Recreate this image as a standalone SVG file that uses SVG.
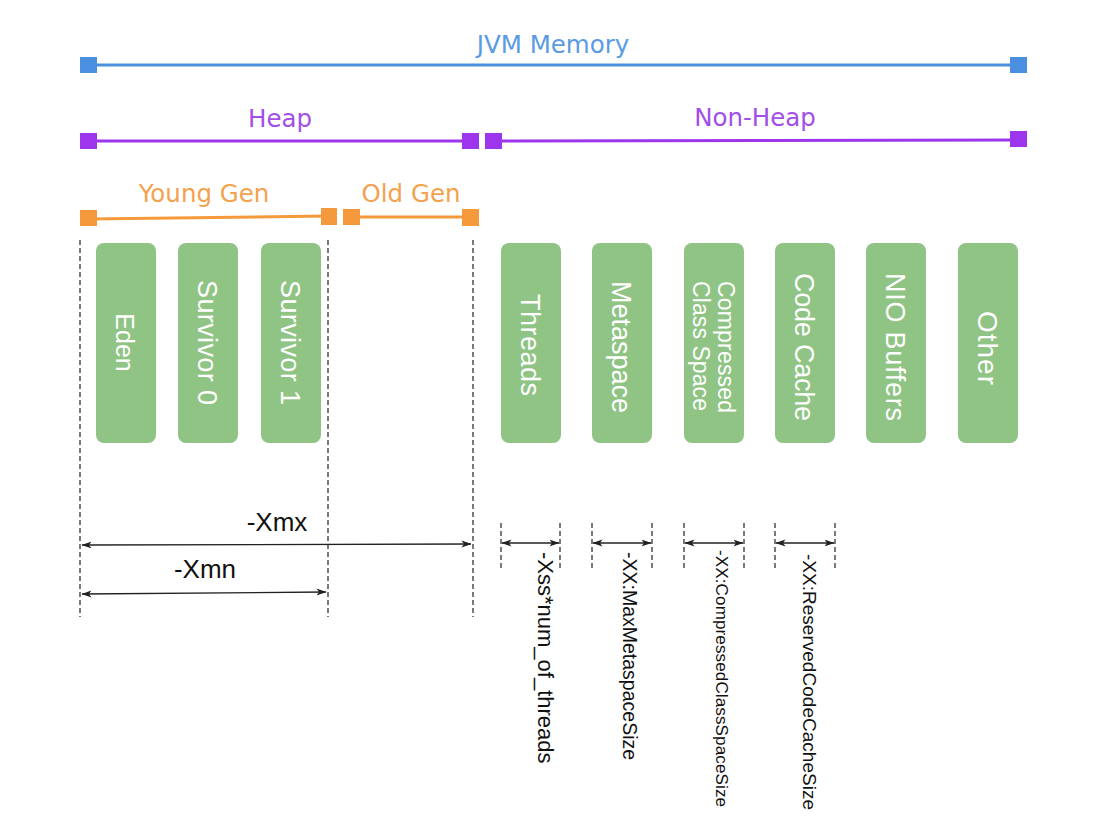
<svg xmlns="http://www.w3.org/2000/svg" width="1111" height="832" viewBox="0 0 1111 832">
<style>
.bg{fill:#ffffff}
.top{font-family:"DejaVu Sans",Verdana,sans-serif;font-size:24.5px;text-anchor:middle}
.blue{fill:#4a8fe0}
.bline{stroke:#4a8fe0;stroke-width:3;fill:none}
.purple{fill:#9c35ec}
.pline{stroke:#9c35ec;stroke-width:3;fill:none}
.orange{fill:#f59a3c}
.oline{stroke:#f59a3c;stroke-width:3;fill:none}
.tblue{fill:#5a9be4}
.tpurple{fill:#a24ee8}
.torange{fill:#f3a24e}
.box{fill:#8fc485}
.bt{font-family:"Liberation Sans",Arial,sans-serif;fill:#ffffff;text-anchor:middle;dominant-baseline:central}
.dash{stroke:#333333;stroke-width:1.3;stroke-dasharray:5 3;fill:none}
.arr{stroke:#222222;stroke-width:1.3;fill:none;marker-start:url(#ah);marker-end:url(#ah)}
.lbl{font-family:"Liberation Sans",Arial,sans-serif;fill:#111111;text-anchor:middle}
.rl{font-family:"Liberation Sans",Arial,sans-serif;fill:#111111;text-anchor:start;dominant-baseline:central}
</style>
<defs>
<marker id="ah" viewBox="0 0 10 8" refX="9.5" refY="4" markerWidth="10" markerHeight="8" markerUnits="userSpaceOnUse" orient="auto-start-reverse">
<path d="M0,0.5 L10,4 L0,7.5 L2.5,4 z" fill="#222222"/>
</marker>
</defs>
<rect class="bg" x="0" y="0" width="1111" height="832"/>

<g id="jvm-memory">
<line class="bline" x1="89" y1="65" x2="1018" y2="65"/>
<rect class="blue" x="80" y="57" width="17" height="16"/>
<rect class="blue" x="1010" y="57" width="17" height="16"/>
<text class="top tblue" x="553" y="53">JVM Memory</text>
</g>

<g id="heap">
<line class="pline" x1="89" y1="141" x2="470" y2="141"/>
<rect class="purple" x="80" y="133" width="17" height="16"/>
<rect class="purple" x="462" y="133" width="17" height="16"/>
<text class="top tpurple" x="280" y="127">Heap</text>
</g>

<g id="non-heap">
<line class="pline" x1="493" y1="141" x2="1018" y2="140"/>
<rect class="purple" x="485" y="133" width="17" height="16"/>
<rect class="purple" x="1010" y="131" width="17" height="16"/>
<text class="top tpurple" x="755" y="126">Non-Heap</text>
</g>

<g id="young-gen">
<line class="oline" x1="89" y1="219" x2="329" y2="216"/>
<rect class="orange" x="80" y="210" width="17" height="16"/>
<rect class="orange" x="321" y="208" width="16" height="17"/>
<text class="top torange" x="204" y="202">Young Gen</text>
</g>

<g id="old-gen">
<line class="oline" x1="351" y1="217" x2="470" y2="217"/>
<rect class="orange" x="343" y="209" width="17" height="16"/>
<rect class="orange" x="462" y="209" width="17" height="17"/>
<text class="top torange" x="411" y="202">Old Gen</text>
</g>

<g id="eden">
<rect class="box" x="96" y="243" width="60" height="200" rx="8"/>
<text class="bt" font-size="25" transform="translate(125,342.5) rotate(90)">Eden</text>
</g>
<g id="survivor0">
<rect class="box" x="178" y="243" width="60" height="200" rx="8"/>
<text class="bt" font-size="27" textLength="125" transform="translate(207,342.5) rotate(90)">Survivor 0</text>
</g>
<g id="survivor1">
<rect class="box" x="261" y="243" width="60" height="200" rx="8"/>
<text class="bt" font-size="27" textLength="125" transform="translate(290,342.5) rotate(90)">Survivor 1</text>
</g>
<g id="threads">
<rect class="box" x="501" y="243" width="60" height="200" rx="8"/>
<text class="bt" font-size="27" textLength="102" transform="translate(530,345) rotate(90)">Threads</text>
</g>
<g id="metaspace">
<rect class="box" x="592" y="243" width="60" height="200" rx="8"/>
<text class="bt" font-size="27" textLength="132" transform="translate(621,347) rotate(90)">Metaspace</text>
</g>
<g id="compressed-class-space">
<rect class="box" x="684" y="243" width="60" height="200" rx="8"/>
<text class="bt" font-size="23" textLength="132" transform="translate(726,347) rotate(90)">Compressed</text>
<text class="bt" font-size="23" textLength="130" transform="translate(701,346) rotate(90)">Class Space</text>
</g>
<g id="code-cache">
<rect class="box" x="775" y="243" width="60" height="200" rx="8"/>
<text class="bt" font-size="27" textLength="148" transform="translate(804,347) rotate(90)">Code Cache</text>
</g>
<g id="nio-buffers">
<rect class="box" x="866" y="243" width="60" height="200" rx="8"/>
<text class="bt" font-size="27" textLength="148" transform="translate(895,347) rotate(90)">NIO Buffers</text>
</g>
<g id="other">
<rect class="box" x="958" y="243" width="60" height="200" rx="8"/>
<text class="bt" font-size="28" textLength="74" transform="translate(987,348) rotate(90)">Other</text>
</g>

<g id="connectors">
<line class="dash" x1="80" y1="240" x2="80" y2="617"/>
<line class="dash" x1="328" y1="240" x2="328" y2="617"/>
<line class="dash" x1="473" y1="240" x2="473" y2="617"/>
<line class="arr" x1="82" y1="545" x2="471" y2="544"/>
<line class="arr" x1="82" y1="594" x2="326" y2="592"/>

<line class="dash" x1="501" y1="523" x2="501" y2="568"/>
<line class="dash" x1="560" y1="523" x2="560" y2="568"/>
<line class="arr" x1="502" y1="543" x2="559" y2="543"/>
<line class="dash" x1="592" y1="523" x2="592" y2="568"/>
<line class="dash" x1="652" y1="523" x2="652" y2="568"/>
<line class="arr" x1="593" y1="543" x2="651" y2="543"/>
<line class="dash" x1="684" y1="523" x2="684" y2="568"/>
<line class="dash" x1="744" y1="523" x2="744" y2="568"/>
<line class="arr" x1="685" y1="543" x2="743" y2="543"/>
<line class="dash" x1="775" y1="523" x2="775" y2="568"/>
<line class="dash" x1="835" y1="523" x2="835" y2="568"/>
<line class="arr" x1="776" y1="543" x2="834" y2="543"/>
</g>

<g id="labels">
<text class="lbl" font-size="26" x="277" y="531">-Xmx</text>
<text class="lbl" font-size="26" x="205" y="578">-Xmn</text>
<text class="rl" font-size="22" transform="translate(545,552) rotate(90)">-Xss*num_of_threads</text>
<text class="rl" font-size="19.5" transform="translate(630,552) rotate(90)">-XX:MaxMetaspaceSize</text>
<text class="rl" font-size="17" textLength="257" transform="translate(721,550) rotate(90)">-XX:CompressedClassSpaceSize</text>
<text class="rl" font-size="19" textLength="256" transform="translate(809,554) rotate(90)">-XX:ReservedCodeCacheSize</text>
</g>
</svg>
